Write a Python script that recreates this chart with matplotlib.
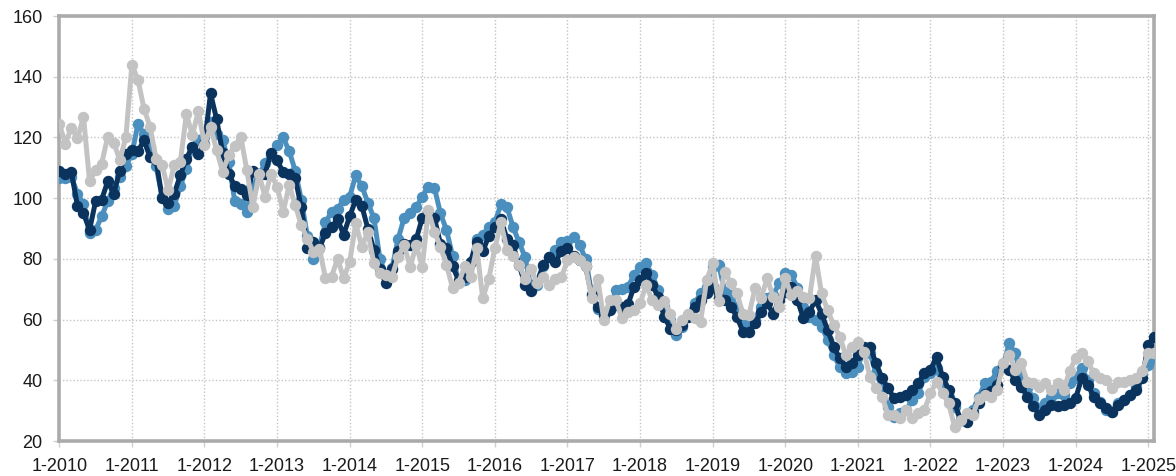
import matplotlib
matplotlib.use("Agg")
import matplotlib.pyplot as plt
import numpy as np

plt.rcParams['font.family'] = ['Liberation Sans', 'DejaVu Sans']

tick_labels = ["1-2010", "1-2011", "1-2012", "1-2013", "1-2014", "1-2015", "1-2016",
               "1-2017", "1-2018", "1-2019", "1-2020", "1-2021", "1-2022", "1-2023",
               "1-2024", "1-2025"]

# Monthly values, Jan 2010 .. Feb 2025
series_dark = [
    109, 108, 108.5, 97.5, 95, 89.5, 99, 99.5, 105.5, 101.5, 109, 114.5,
    116, 115.5, 119, 113.5, 112.5, 100, 98.5, 101.5, 107.5, 113, 117, 114.5,
    118, 134.5, 126, 115, 108, 104, 103, 101, 109, 108, 108, 115,
    112.5, 108.5, 108, 106.5, 97, 83.5, 85.5, 83.5, 88.5, 90.5, 93, 88,
    94, 99.5, 97.5, 90, 83, 76.5, 72, 76.5, 82.5, 85, 84.5, 86.5,
    93.5, 95.5, 93.5, 85, 83.5, 77.5, 73, 74, 79, 85.5, 82.5, 87.5,
    90.5, 93, 86.5, 84.5, 78, 71.5, 69.5, 72.5, 78, 80.5, 79, 82.5,
    83.5, 81, 79.5, 77.5, 68, 64, 61.5, 63, 64.8, 64, 65, 70.8,
    73, 75.2, 71.4, 67.5, 61, 57, 56.5, 58.2, 61, 64.2, 66.4, 68.6,
    70.8, 67, 66.4, 64.2, 61, 56, 56, 58.8, 62.6, 65.3, 62, 66.4,
    69.2, 70.8, 66.5, 60.4, 62.6, 66.4, 62, 56.6, 51.1, 47.2, 44.5, 45.6,
    48.3, 51.1, 51.1, 45.6, 40.7, 37.4, 34.1, 34.6, 35.2, 36.8, 39, 42.3,
    43.4, 47.8, 41.2, 36.8, 32.4, 26.9, 26.4, 29.1, 32.5, 35.5, 36.5, 38.5,
    45.1, 43.4, 40.1, 37.9, 34.6, 31.4, 28.6, 30.3, 31.9, 31.4, 31.9, 32.5,
    34.1, 40.7, 38.5, 34.6, 32.5, 30.8, 29.7, 31.9, 33.6, 35.2, 36.8, 40.7,
    51.7, 54.4,
]

series_blue = [
    106.5, 106.5, 107, 101.5, 98, 88.5, 89.5, 94, 99, 103.5, 107, 110.5,
    114.5, 124.5, 121, 117, 110.5, 100.5, 96.5, 97.5, 104, 109.5, 117, 119,
    120, 125, 121, 119, 112, 99, 98, 95.5, 104, 107.5, 111.5, 114,
    117.5, 120, 115.5, 109, 99.5, 87.5, 80, 84, 92, 95.5, 96.5, 99.5,
    100.5, 107.5, 104, 98.5, 93.5, 80, 74.5, 77, 86.5, 93.5, 95, 97,
    100.5, 103.8, 103.5, 95, 89.5, 81, 72.5, 73, 79, 86.5, 88, 90.5,
    92, 98, 97, 90.5, 85.5, 80.5, 70, 71.5, 77.5, 80.5, 83, 85.5,
    86, 87.3, 84.5, 80, 68.5, 63.5, 61.5, 63.5, 69.7, 70, 70.8, 74.7,
    77.4, 78.5, 74.7, 69.7, 64.2, 60, 55, 57.7, 61.5, 65.3, 68.6, 70.8,
    77.4, 78, 69.2, 68, 63.7, 58.8, 58.2, 60, 64.2, 67, 68, 72,
    75.2, 74.7, 70.5, 64.2, 61, 59.9, 57.7, 53.3, 48.3, 44.5, 42.3, 42.8,
    44.5, 50, 48.9, 42.3, 37.9, 31.3, 28, 29.1, 30.2, 33.5, 35.7, 41.2,
    42.3, 43.9, 38.4, 34.6, 31.3, 26.9, 28.6, 30.2, 34.6, 39, 39.6, 42.9,
    44.5, 52.2, 48.9, 41.8, 37.4, 34.1, 30.8, 32.5, 34.6, 35.7, 35.2, 39,
    40.7, 44, 40.1, 35.7, 33, 30.3, 29.7, 32.5, 33.6, 35.2, 37.9, 42.3,
    45.1, 47.3,
]

series_gray = [
    124.4, 118, 123.2, 119.7, 126.8, 105.6, 109.2, 111.4, 120.2, 118.3, 112.5, 120,
    144, 139, 129.5, 123.5, 113, 110.9, 102.6, 110.9, 111.8, 127.6, 120.8, 128.7,
    117.5, 123.5, 115.8, 108.7, 114.2, 117.2, 120.2, 109.2, 97, 108, 100.5, 108,
    103.7, 95.5, 104.3, 97.7, 91.1, 86.7, 82.3, 83.4, 73.6, 74.1, 80.1, 73.6,
    79, 91.7, 84, 88.9, 78.5, 75.2, 74.7, 74.1, 80.7, 84.5, 77.4, 84.5,
    77.4, 96, 89, 84, 78, 70.5, 72, 77.5, 74, 83.5, 67, 73.5,
    83.5, 92, 83, 81, 78, 73.5, 76.5, 72, 74, 71.5, 73.5, 74,
    79.5, 80.5, 79.5, 77.5, 67, 73.5, 60, 66.5, 66.4, 60.4, 62.6, 63,
    65.3, 71.4, 66.4, 64.8, 66, 62, 57, 60, 62, 60.4, 59.3, 73,
    78.5, 66, 75.8, 72, 68.6, 62, 61.5, 70.3, 67, 73.6, 67.5, 64.2,
    73.6, 68, 69.5, 67.5, 67, 80.9, 68.6, 63.1, 58.2, 54.4, 48.3, 51.1,
    52.7, 49.4, 41.2, 37.4, 34.6, 28.6, 28.6, 27.5, 30.2, 27.5, 29.1, 30.2,
    35.7, 39.6, 35.7, 32.4, 24.7, 26.9, 29.1, 28.6, 34, 35.2, 34.6, 36.8,
    45.6, 48.4, 43.4, 45.6, 39.6, 39, 37.9, 39, 36.8, 39, 36.8, 42.9,
    47.3, 48.9, 46.2, 42.3, 40.7, 40.1, 37.4, 39.6, 39.6, 40.1, 40.7, 42.9,
    48.9, 48.9,
]

x = np.arange(len(series_dark))

fig = plt.figure(figsize=(11.76, 4.76), dpi=100)
ax = fig.add_axes([59.3 / 1176, 35 / 476, 1095 / 1176, 425 / 476])

style = dict(linewidth=3.6, marker='o', markersize=7.2, solid_joinstyle='round',
             solid_capstyle='round')
ax.plot(x, series_blue, color='#4b8fbe', zorder=3, **style)
ax.plot(x, series_dark, color='#0a335e', zorder=4, **style)
ax.plot(x, series_gray, color='#c3c3c3', zorder=5, **style)

ax.set_xlim(0, len(series_dark) - 1)
ax.set_ylim(20, 160)
ax.set_yticks(np.arange(20, 161, 20))
ax.set_xticks(np.arange(0, 12 * len(tick_labels), 12))
ax.set_xticklabels(tick_labels)

ax.grid(True, color='#c4c4c4', linestyle=(0, (1, 1.5)), linewidth=1.0, zorder=0)
ax.set_axisbelow(True)

for sp in ax.spines.values():
    sp.set_color('#ababab')
    sp.set_linewidth(2.6)

ax.tick_params(axis='both', colors='#d0d0d0', labelcolor='#1a1a1a', labelsize=13,
               length=4, width=1)
ax.tick_params(axis='x', pad=8)
ax.tick_params(axis='y', pad=8)

fig.savefig('out.png', dpi=100)
